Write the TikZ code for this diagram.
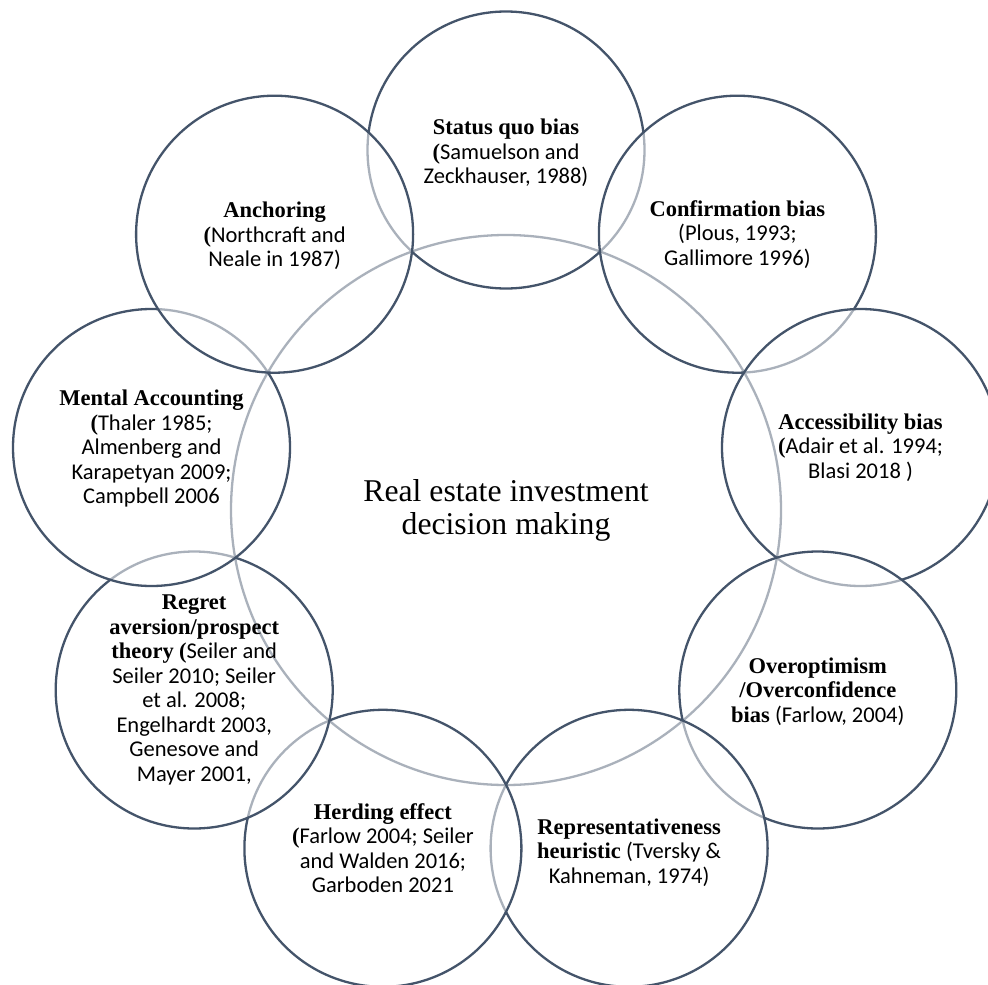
\documentclass[tikz,border=0pt]{standalone}
\usepackage{fontspec}
\setmainfont{Liberation Serif}
\newfontfamily\calfont{Carlito}
\definecolor{slate}{HTML}{44546A}
\newcommand\bhead[1]{{\rmfamily\bfseries #1}}
\newcommand\bparen{{\rmfamily\bfseries (}}
\begin{document}
\begin{tikzpicture}[x=1pt,y=-1pt,
  hub/.style={circle, draw=slate, line width=2.3pt, minimum size=550pt, inner sep=0pt},
  bubble/.style={circle, draw=slate, line width=2.3pt, fill=white, fill opacity=0.55, minimum size=277pt, inner sep=0pt},
  lbl/.style={align=center, inner sep=0pt, text=black, font=\fontsize{22.5}{24.5}\selectfont\calfont},
  hubtext/.style={align=center, inner sep=0pt, text=black, font=\fontsize{31.7}{33}\selectfont\rmfamily}]
\useasboundingbox (0,0) rectangle (988,985);
\fill[white] (0,0) rectangle (988,985);
% central circle
\node[hub] (hub) at (506,510) {};
% surrounding circles, drawn in order
\node[bubble] (sq)  at (506,150) {};
\node[bubble] (cb)  at (737.4,234.2) {};
\node[bubble] (ab)  at (860.5,447.5) {};
\node[bubble] (ob)  at (817.8,690) {};
\node[bubble] (rh)  at (629.1,848.3) {};
\node[bubble] (he)  at (382.9,848.3) {};
\node[bubble] (ra)  at (194.2,690) {};
\node[bubble] (ma)  at (151.5,447.5) {};
\node[bubble] (an)  at (274.6,234.2) {};
% texts
\node[hubtext] (hubt) at (hub) {Real estate investment\\decision making};
\node[lbl] (sqt) at (506,153) {\bhead{Status quo bias}\\\bparen Samuelson and\\Zeckhauser, 1988)};
\node[lbl] (cbt) at (cb) {\bhead{Confirmation bias}\\(Plous, 1993;\\Gallimore 1996)};
\node[lbl] (abt) at (ab) {\bhead{Accessibility bias}\\\bparen Adair et al. 1994;\\Blasi 2018 )};
\node[lbl] (obt) at (817.8,691.5) {\bhead{Overoptimism}\\\bhead{/Overconfidence}\\\bhead{bias} (Farlow, 2004)};
\node[lbl] (rht) at (629.1,852.5) {\bhead{Representativeness}\\\bhead{heuristic} (Tversky \&\\Kahneman, 1974)};
\node[lbl] (het) at (he) {\bhead{Herding effect}\\\bparen Farlow 2004; Seiler\\and Walden 2016;\\Garboden 2021};
\node[lbl] (rat) at (ra) {\bhead{Regret}\\\bhead{aversion/prospect}\\\bhead{theory} \bparen Seiler and\\Seiler 2010; Seiler\\et al. 2008;\\Engelhardt 2003,\\Genesove and\\Mayer 2001,};
\node[lbl] (mat) at (151.5,449) {\bhead{Mental Accounting}\\\bparen Thaler 1985;\\Almenberg and\\Karapetyan 2009;\\Campbell 2006};
\node[lbl] (ant) at (274.6,236) {\bhead{Anchoring}\\\bparen Northcraft and\\Neale in 1987)};
\end{tikzpicture}
\end{document}
